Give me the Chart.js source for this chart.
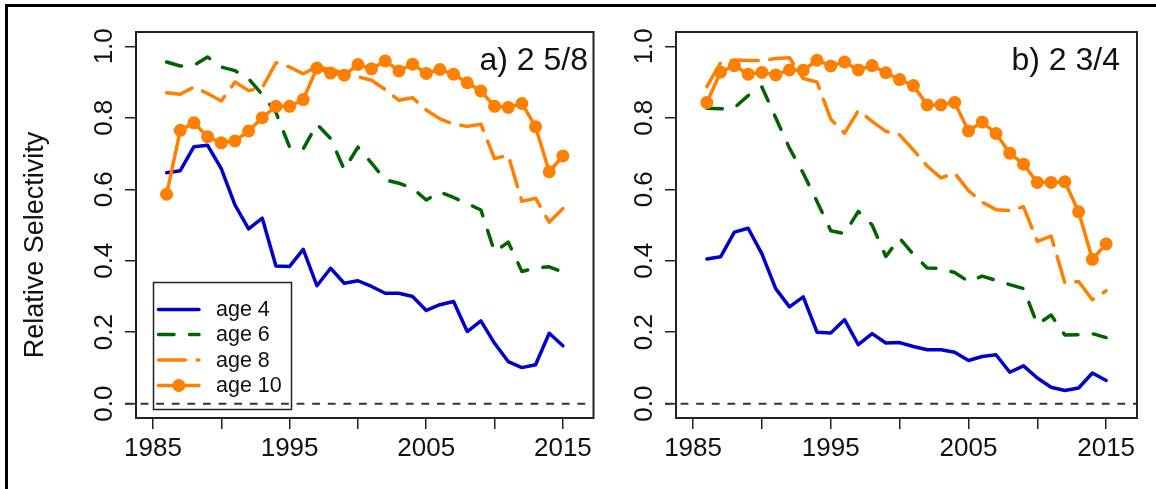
<!DOCTYPE html>
<html>
<head>
<meta charset="utf-8">
<script src="https://cdn.jsdelivr.net/npm/chart.js@4.4.1/dist/chart.umd.min.js"></script>
<style>
  html, body { margin: 0; padding: 0; background: #fff; width: 1156px; height: 489px; overflow: hidden; }
  canvas { position: absolute; top: 0; }
  #panelA { left: 0; }
  #panelB { left: 600px; }
  #frame { position: absolute; left: 5px; top: 4px; width: 1300px; height: 700px;
           border-left: 3px solid #000; border-top: 3px solid #000; pointer-events: none; }
</style>
</head>
<body>
<canvas id="panelA" width="600" height="489"></canvas>
<canvas id="panelB" width="556" height="489"></canvas>
<div id="frame"></div>
<script>
// ---- data ----
const years = [1986, 1987, 1988, 1989, 1990, 1991, 1992, 1993, 1994, 1995,
               1996, 1997, 1998, 1999, 2000, 2001, 2002, 2003, 2004, 2005,
               2006, 2007, 2008, 2009, 2010, 2011, 2012, 2013, 2014, 2015];

const seriesNames = ['age 4', 'age 6', 'age 8', 'age 10'];
const panelTitles = ['a) 2 5/8', 'b) 2 3/4'];

// panel a) 2 5/8
const aAge4  = [0.646, 0.652, 0.719, 0.723, 0.658, 0.556, 0.489, 0.519, 0.385, 0.384,
                0.432, 0.330, 0.379, 0.337, 0.344, 0.328, 0.309, 0.309, 0.300, 0.261,
                0.277, 0.286, 0.202, 0.232, 0.169, 0.118, 0.101, 0.109, 0.197, 0.162];
const aAge6  = [0.956, 0.945, 0.947, 0.970, 0.942, 0.932, 0.909, 0.865, 0.815, 0.718,
                0.713, 0.782, 0.742, 0.655, 0.718, 0.673, 0.626, 0.617, 0.603, 0.570,
                0.592, 0.577, 0.560, 0.542, 0.425, 0.452, 0.370, 0.380, 0.383, 0.368];
const aAge8  = [0.870, 0.866, 0.886, 0.868, 0.847, 0.900, 0.876, 0.884, 0.954, 0.942,
                0.923, 0.943, 0.935, 0.925, 0.915, 0.905, 0.879, 0.849, 0.856, 0.822,
                0.797, 0.782, 0.776, 0.782, 0.686, 0.695, 0.566, 0.575, 0.508, 0.546];
const aAge10 = [0.586, 0.765, 0.786, 0.747, 0.730, 0.735, 0.763, 0.800, 0.832, 0.832,
                0.851, 0.939, 0.925, 0.919, 0.949, 0.937, 0.959, 0.931, 0.950, 0.924,
                0.935, 0.922, 0.898, 0.875, 0.832, 0.829, 0.840, 0.775, 0.649, 0.693];

// panel b) 2 3/4
const bAge4  = [0.405, 0.411, 0.480, 0.491, 0.419, 0.322, 0.271, 0.299, 0.200, 0.198,
                0.235, 0.165, 0.196, 0.170, 0.171, 0.160, 0.151, 0.151, 0.144, 0.121,
                0.132, 0.137, 0.088, 0.106, 0.072, 0.046, 0.037, 0.044, 0.086, 0.065];
const bAge6  = [0.827, 0.825, 0.828, 0.862, 0.886, 0.800, 0.715, 0.645, 0.566, 0.484,
                0.476, 0.538, 0.500, 0.412, 0.463, 0.418, 0.380, 0.378, 0.367, 0.342,
                0.357, 0.345, 0.333, 0.322, 0.222, 0.248, 0.192, 0.193, 0.196, 0.185];
const bAge8  = [0.887, 0.954, 0.962, 0.960, 0.960, 0.966, 0.968, 0.910, 0.900, 0.796,
                0.757, 0.820, 0.790, 0.762, 0.752, 0.710, 0.665, 0.632, 0.645, 0.596,
                0.564, 0.543, 0.540, 0.551, 0.454, 0.469, 0.338, 0.342, 0.291, 0.316];
const bAge10 = [0.843, 0.928, 0.946, 0.922, 0.927, 0.920, 0.934, 0.933, 0.961, 0.945,
                0.956, 0.934, 0.946, 0.926, 0.907, 0.890, 0.836, 0.836, 0.843, 0.763,
                0.788, 0.756, 0.701, 0.670, 0.619, 0.619, 0.621, 0.537, 0.404, 0.447];

const xTicks = [1985, 1990, 1995, 2000, 2005, 2010, 2015];
const xTickLabels = ['1985', '', '1995', '', '2005', '', '2015'];
const yTicks = [0, 0.2, 0.4, 0.6, 0.8, 1.0];
const yTickLabels = ['0.0', '0.2', '0.4', '0.6', '0.8', '1.0'];
const yAxisTitle = 'Relative Selectivity';

// ---- styling ----
const FONT = '"Liberation Sans", Arial, Helvetica, sans-serif';
const INK = '#111';
const LINE_W = 3.5;
const seriesStyle = [
  { color: '#0000CD', dash: [],            points: false },
  { color: '#006400', dash: [15.5, 15.5],  points: false },
  { color: '#FF7F00', dash: [27, 11.6],    points: false },
  { color: '#FF7F00', dash: [],            points: true  }
];
Chart.defaults.font.family = FONT;
Chart.defaults.color = INK;

function buildDatasets(valueSets) {
  return valueSets.map((vals, i) => ({
    label: seriesNames[i],
    data: years.map((yr, k) => ({ x: yr, y: vals[k] })),
    borderColor: seriesStyle[i].color,
    backgroundColor: seriesStyle[i].color,
    borderWidth: LINE_W,
    borderDash: seriesStyle[i].dash,
    borderCapStyle: 'round',
    borderJoinStyle: 'round',
    pointRadius: seriesStyle[i].points ? 6.5 : 0,
    pointBorderWidth: 0,
    pointBackgroundColor: seriesStyle[i].color,
    tension: 0,
    fill: false,
    order: 4 - i
  }));
}

// box, zero reference line, legend, panel tag and shared y title
const panelDecor = {
  id: 'panelDecor',
  beforeDatasetsDraw(chart) {
    const { ctx, chartArea: a, scales: { y } } = chart;
    const py = y.getPixelForValue(0);
    ctx.save();
    ctx.strokeStyle = '#333';
    ctx.lineWidth = 2;
    ctx.setLineDash([7.8, 7.8]);
    ctx.beginPath();
    ctx.moveTo(a.left - 11, py);
    ctx.lineTo(a.right, py);
    ctx.stroke();
    ctx.restore();
  },
  afterDraw(chart, args, opts) {
    const { ctx, chartArea: a } = chart;
    ctx.save();
    // plot box
    ctx.strokeStyle = '#222';
    ctx.lineWidth = 2;
    ctx.strokeRect(a.left, a.top, a.right - a.left, a.bottom - a.top);

    // panel tag
    ctx.fillStyle = INK;
    ctx.font = '32px ' + FONT;
    ctx.textAlign = 'right';
    ctx.textBaseline = 'alphabetic';
    ctx.fillText(opts.tag, opts.tagRight, 70);

    // legend
    if (opts.legend) {
      const lx = 153.5, ly = 282.5, lw = 138, lh = 127;
      ctx.lineWidth = 1.5;
      ctx.strokeStyle = '#222';
      ctx.strokeRect(lx, ly, lw, lh);
      const rows = [309.5, 334.5, 360, 385.5];
      seriesNames.forEach((name, i) => {
        const st = seriesStyle[i];
        ctx.save();
        ctx.strokeStyle = st.color;
        ctx.lineWidth = LINE_W;
        ctx.lineCap = 'round';
        ctx.setLineDash(st.dash);
        ctx.beginPath();
        ctx.moveTo(158.5, rows[i]);
        ctx.lineTo(199, rows[i]);
        ctx.stroke();
        if (st.points) {
          ctx.fillStyle = st.color;
          ctx.beginPath();
          ctx.arc(178.8, rows[i], 6.5, 0, Math.PI * 2);
          ctx.fill();
        }
        ctx.restore();
        ctx.fillStyle = INK;
        ctx.font = '21.5px ' + FONT;
        ctx.textAlign = 'left';
        ctx.textBaseline = 'middle';
        ctx.fillText(name, 216, rows[i] + 1);
      });
    }

    // y axis title
    if (opts.yTitle) {
      ctx.fillStyle = INK;
      ctx.font = '27px ' + FONT;
      ctx.textAlign = 'center';
      ctx.textBaseline = 'middle';
      ctx.translate(36, 245);
      ctx.rotate(-Math.PI / 2);
      ctx.fillText(opts.yTitle, 0, 0);
    }
    ctx.restore();
  }
};

function makePanel(canvasId, valueSets, cfg) {
  const canvas = document.getElementById(canvasId);
  const W = canvas.width;
  const H = canvas.height;
  return new Chart(canvas, {
    type: 'line',
    data: { datasets: buildDatasets(valueSets) },
    plugins: [panelDecor],
    options: {
      responsive: false,
      animation: false,
      events: [],
      layout: { padding: { left: 0, top: cfg.areaTop, right: W - cfg.areaRight, bottom: 0 } },
      plugins: {
        legend: { display: false },
        tooltip: { enabled: false },
        panelDecor: { tag: cfg.tag, tagRight: cfg.tagRight, legend: cfg.legend, yTitle: cfg.yTitle }
      },
      scales: {
        x: {
          type: 'linear',
          min: 1983.76,
          max: 2017.24,
          afterBuildTicks: s => { s.ticks = xTicks.map(v => ({ value: v })); },
          afterFit: s => { s.height = H - cfg.areaBottom; },
          grid: { drawOnChartArea: false, drawTicks: true, tickLength: 11, color: '#222', lineWidth: 1.5 },
          border: { display: false },
          ticks: {
            autoSkip: false, minRotation: 0, maxRotation: 0, padding: 4,
            color: INK, font: { size: 26, family: FONT },
            callback: (v, i) => xTickLabels[i]
          }
        },
        y: {
          type: 'linear',
          min: -0.04,
          max: 1.04,
          afterBuildTicks: s => { s.ticks = yTicks.map(v => ({ value: v })); },
          afterFit: s => { s.width = cfg.areaLeft; },
          grid: { drawOnChartArea: false, drawTicks: true, tickLength: 11, color: '#222', lineWidth: 1.5 },
          border: { display: false },
          ticks: {
            minRotation: 90, maxRotation: 90, crossAlign: 'center', padding: 2,
            color: INK, font: { size: 26, family: FONT },
            callback: (v, i) => yTickLabels[i]
          }
        }
      }
    }
  });
}

makePanel('panelA', [aAge4, aAge6, aAge8, aAge10], {
  areaLeft: 136, areaRight: 597, areaTop: 32, areaBottom: 418,
  tag: panelTitles[0], tagRight: 588, legend: true, yTitle: yAxisTitle
});
makePanel('panelB', [bAge4, bAge6, bAge8, bAge10], {
  areaLeft: 76, areaRight: 537, areaTop: 32, areaBottom: 418,
  tag: panelTitles[1], tagRight: 520, legend: false, yTitle: null
});
</script>
</body>
</html>
